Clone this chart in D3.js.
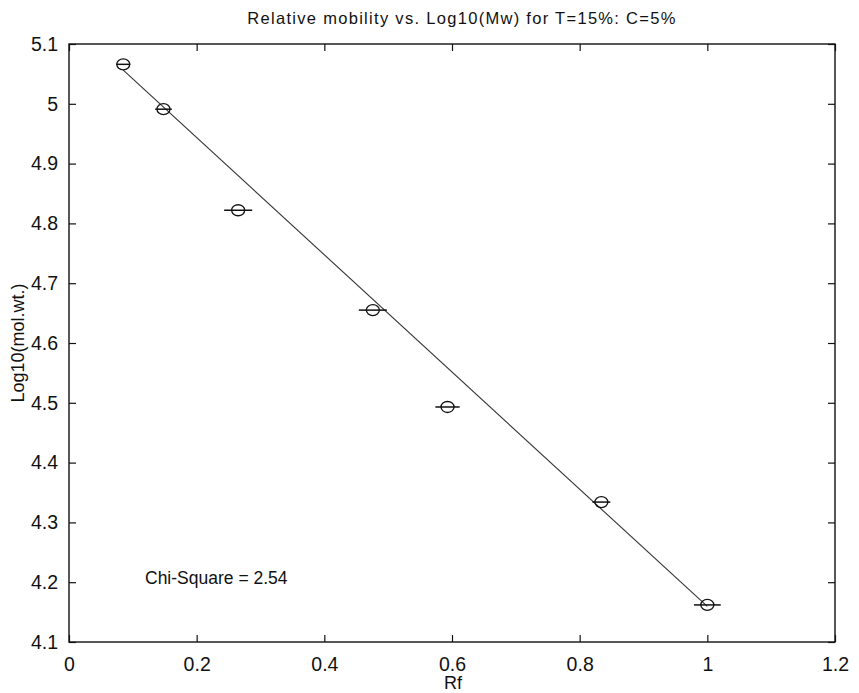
<!DOCTYPE html>
<html><head><meta charset="utf-8">
<script src="https://cdn.jsdelivr.net/npm/d3@7"></script>
<style>body{margin:0;background:#fff}svg{display:block}</style>
</head><body>
<script>
const rf = [0.085, 0.148, 0.265, 0.476, 0.593, 0.834, 1.0];
const logMw = [5.066, 4.991, 4.822, 4.655, 4.493, 4.334, 4.162];
const rfErr = [0.011, 0.013, 0.022, 0.022, 0.019, 0.014, 0.021];
const fitSlope = -0.98;
const fitIntercept = 5.1395;
const fitRange = [0.085, 1.0];
const xTicks = [0, 0.2, 0.4, 0.6, 0.8, 1, 1.2];
const yTicks = [4.1, 4.2, 4.3, 4.4, 4.5, 4.6, 4.7, 4.8, 4.9, 5, 5.1];
const titleText = "Relative mobility vs. Log10(Mw) for T=15%: C=5%";
const xLabel = "Rf";
const yLabel = "Log10(mol.wt.)";
const note = "Chi-Square = 2.54";

const W = 859, H = 693;
const L = 69, R = 835, T = 44, B = 642;
const font = "'Liberation Sans', Arial, Helvetica, sans-serif";
const ink = "#111";

const svg = d3.select("body").append("svg").attr("width", W).attr("height", H);
const x = d3.scaleLinear().domain([0, 1.2]).range([L, R]);
const y = d3.scaleLinear().domain([4.1, 5.1]).range([B, T]);

const fmt = d => d3.format("")(+d.toFixed(1));

const tl = 7;
svg.append("g").attr("transform", `translate(0,${B})`)
  .call(d3.axisBottom(x).tickValues(xTicks).tickSizeInner(-tl).tickSizeOuter(0).tickPadding(tl + 8).tickFormat(fmt));
svg.append("g").attr("transform", `translate(0,${T})`)
  .call(d3.axisTop(x).tickValues(xTicks).tickSizeInner(-tl).tickSizeOuter(0).tickFormat(""));
svg.append("g").attr("transform", `translate(${L},0)`)
  .call(d3.axisLeft(y).tickValues(yTicks).tickSizeInner(-tl).tickSizeOuter(0).tickPadding(tl + 4).tickFormat(fmt));
svg.append("g").attr("transform", `translate(${R},0)`)
  .call(d3.axisRight(y).tickValues(yTicks).tickSizeInner(-tl).tickSizeOuter(0).tickFormat(""));
svg.selectAll(".domain").remove();
svg.selectAll(".tick line").attr("stroke", ink).attr("stroke-width", 1.2);
svg.selectAll(".tick text").attr("font-family", font).attr("font-size", 19.5).attr("fill", ink);

svg.append("rect").attr("x", L).attr("y", T).attr("width", R - L).attr("height", B - T)
  .attr("fill", "none").attr("stroke", ink).attr("stroke-width", 1.4);

svg.append("line")
  .attr("x1", x(fitRange[0])).attr("y1", y(fitIntercept + fitSlope * fitRange[0]))
  .attr("x2", x(fitRange[1])).attr("y2", y(fitIntercept + fitSlope * fitRange[1]))
  .attr("stroke", "#333").attr("stroke-width", 1.1);

const pts = rf.map((v, i) => ({ x: v, y: logMw[i], e: rfErr[i] }));
svg.append("g").selectAll("line").data(pts).join("line")
  .attr("x1", d => x(d.x - d.e)).attr("x2", d => x(d.x + d.e))
  .attr("y1", d => y(d.y)).attr("y2", d => y(d.y))
  .attr("stroke", ink).attr("stroke-width", 1.5);
svg.append("g").selectAll("ellipse").data(pts).join("ellipse")
  .attr("cx", d => x(d.x)).attr("cy", d => y(d.y)).attr("rx", 6.5).attr("ry", 5.5)
  .attr("fill", "none").attr("stroke", ink).attr("stroke-width", 1.3);

svg.append("text").attr("x", 462).attr("y", 24).attr("text-anchor", "middle")
  .attr("font-family", font).attr("font-size", 16.5).attr("letter-spacing", 1.3).attr("fill", ink).text(titleText);
svg.append("text").attr("x", 453).attr("y", 689).attr("text-anchor", "middle")
  .attr("font-family", font).attr("font-size", 18).attr("fill", ink).text(xLabel);
svg.append("text").attr("transform", "translate(24,343) rotate(-90)").attr("text-anchor", "middle")
  .attr("font-family", font).attr("font-size", 18).attr("fill", ink).text(yLabel);
svg.append("text").attr("x", 145).attr("y", 584)
  .attr("font-family", font).attr("font-size", 17.5).attr("fill", ink).text(note);
</script>
</body></html>
